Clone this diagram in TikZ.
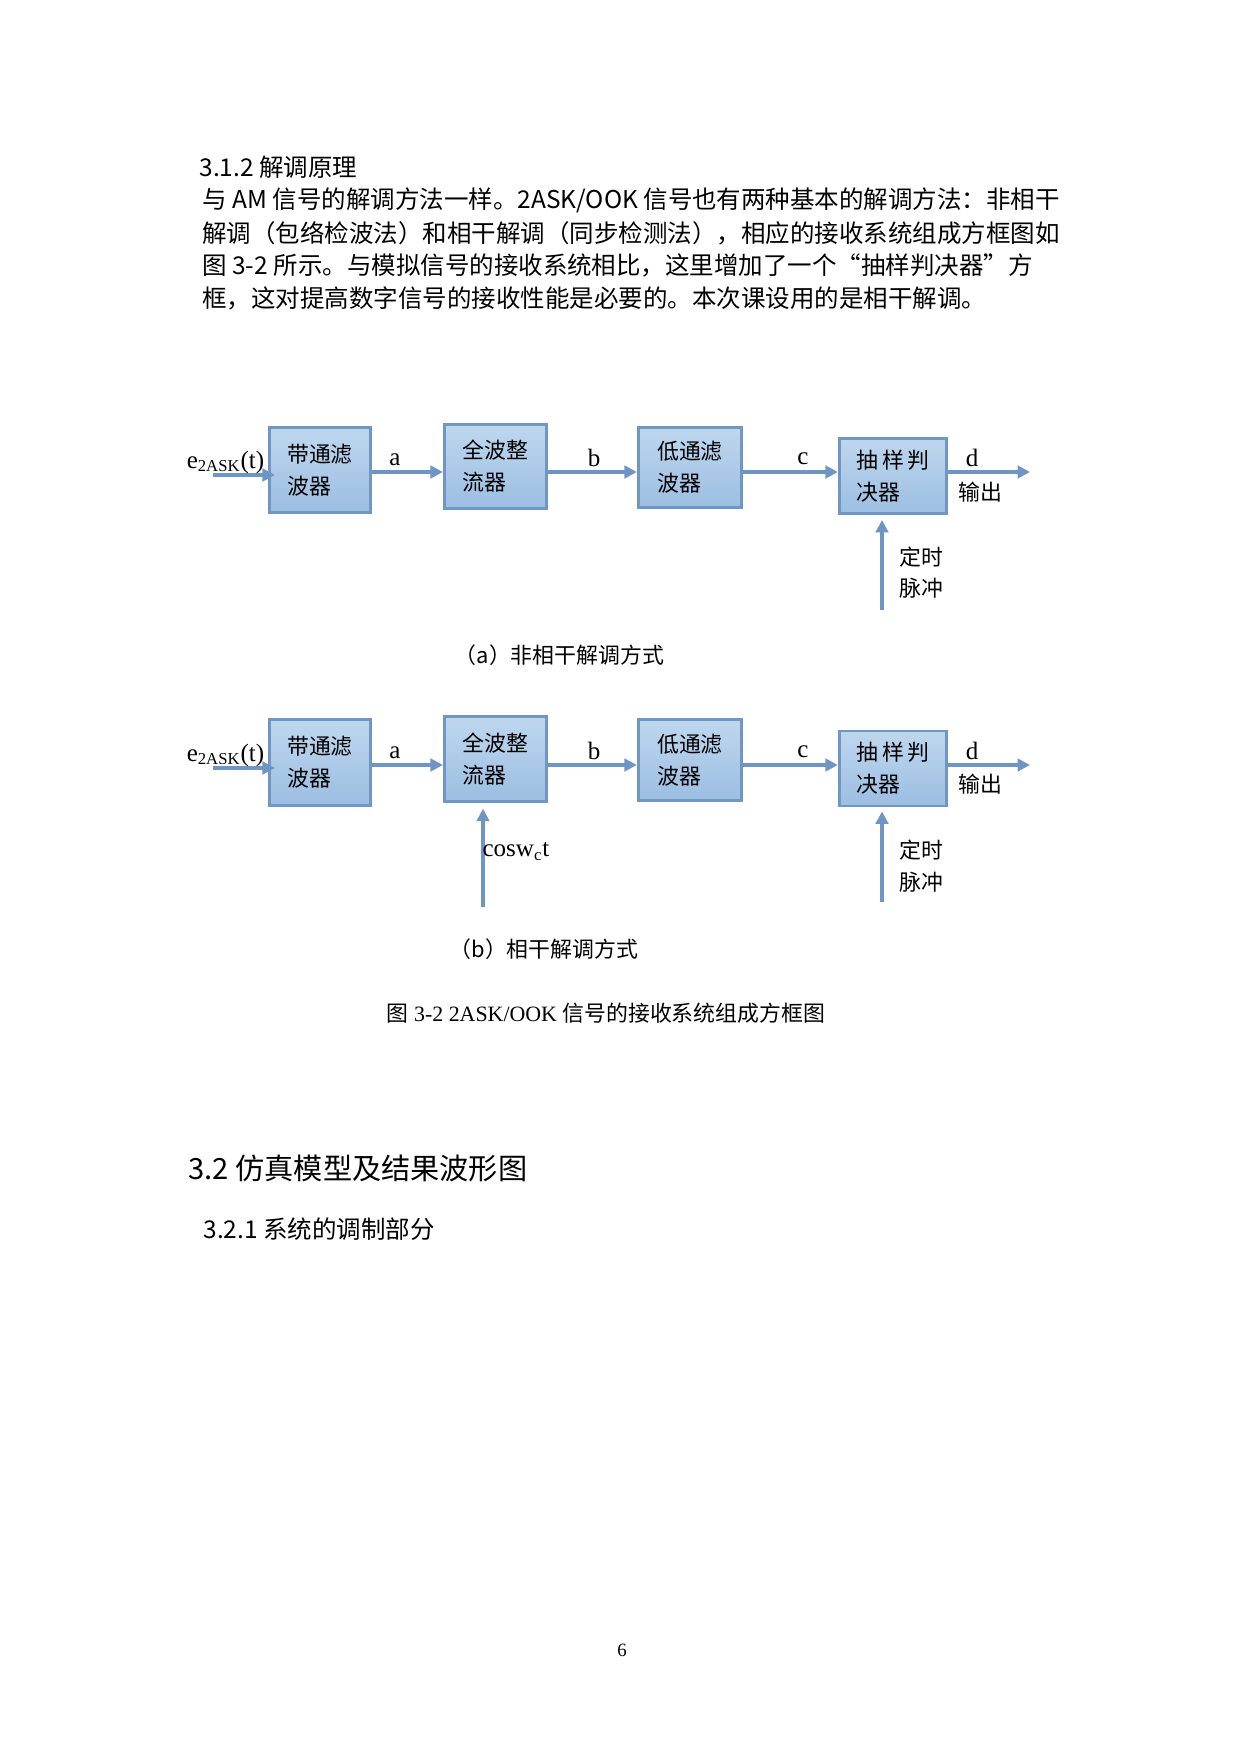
\documentclass[tikz,border=0pt]{standalone}
\usepackage{fontspec}
\setmainfont{Liberation Serif}
\newfontfamily\cjk{Noto Sans CJK SC}
\usetikzlibrary{arrows.meta}
\definecolor{boxtop}{RGB}{190,215,238}
\definecolor{boxbot}{RGB}{156,190,226}
\definecolor{boxline}{RGB}{112,150,196}
\definecolor{sigline}{RGB}{110,149,196}

\begin{document}
\begin{tikzpicture}[x=0.4797pt,y=-0.4797pt,
	blk/.style={draw=boxline,line width=1.4pt,top color=boxtop,bottom color=boxbot,inner sep=0pt,align=left,font=\cjk\fontsize{10.5}{15.4}\selectfont},
	sig/.style={draw=sigline,line width=1.5pt,-{Triangle[length=6pt,width=6pt]}},
	lbl/.style={font=\fontsize{12}{14}\selectfont},
	zh/.style={align=left,font=\cjk\fontsize{10.5}{15.2}\selectfont},
	body/.style={anchor=west,inner sep=0pt,font=\cjk\fontsize{11.75}{14}\selectfont}]
	\useasboundingbox (0,0) rectangle (1241,1754);
	
	\node[body] (h312) at (199,167) {3.1.2 解调原理};
	\node[body] (p1) at (202,200) {与 AM 信号的解调方法一样。2ASK/OOK 信号也有两种基本的解调方法：非相干};
	\node[body] (p2) at (202,233) {解调（包络检波法）和相干解调（同步检测法），相应的接收系统组成方框图如};
	\node[body] (p3) at (202,265.5) {图 3-2 所示。与模拟信号的接收系统相比，这里增加了一个“抽样判决器”方};
	\node[body] (p4) at (202,298) {框，这对提高数字信号的接收性能是必要的。本次课设用的是相干解调。};
	
	%-------------------------------------
	\node[blk,minimum width=48.6pt,minimum height=41pt] (bpa) at (320,470) {带通滤\\波器};
	\node[blk,minimum width=49pt,minimum height=40.5pt] (fwra) at (495.5,466.5) {全波整\\流器};
	\node[blk,minimum width=49.6pt,minimum height=38.5pt] (lpfa) at (690,467.5) {低通滤\\波器};
	\node[blk,minimum width=51.5pt,minimum height=36pt] (deca) at (893,476) {抽\,样\,判\\决器};
	
	\coordinate (fa) at (0,472);
	\coordinate (ina) at (213,475);
	\coordinate (outa) at (1030,472);
	\coordinate (clka) at (882,610);
	
	\draw[sig,shorten >=-3.4pt] (ina) -- (ina -| bpa.west);
	\draw[sig] (bpa.east |- fa) -- (fwra.west |- fa);
	\draw[sig] (fwra.east |- fa) -- (lpfa.west |- fa);
	\draw[sig] (lpfa.east |- fa) -- (deca.west |- fa);
	\draw[sig] (deca.east |- fa) -- (outa);
	\draw[sig,shorten >=2.4pt] (clka) -- (clka |- deca.south);
	
	\node[lbl] (ea) at (225.5,462) {e\textsubscript{2ASK}(t)};
	\node[lbl] (la) at (395,460) {a};
	\node[lbl] (lb) at (594,458) {b};
	\node[lbl] (lc) at (803,459) {c};
	\node[lbl] (ld) at (972,457.5) {d};
	\node[zh] (oa) at (980,491.7) {输出};
	\node[zh,anchor=west,inner sep=0pt] (ta) at (899,572.5) {定时\\脉冲};
	\node[zh] (capa) at (559.5,655) {（a）非相干解调方式};
	
	%-------------------------------------
	\node[blk,minimum width=48.6pt,minimum height=41pt] (bpb) at (320,762.5) {带通滤\\波器};
	\node[blk,minimum width=49pt,minimum height=40.5pt] (fwrb) at (495.5,759) {全波整\\流器};
	\node[blk,minimum width=49.6pt,minimum height=38.5pt] (lpfb) at (690,760) {低通滤\\波器};
	\node[blk,minimum width=51.5pt,minimum height=36pt] (decb) at (893,768.5) {抽\,样\,判\\决器};
	
	\coordinate (fb) at (0,765);
	\coordinate (inb) at (213,768);
	\coordinate (outb) at (1030,765);
	\coordinate (clkb) at (882,902);
	\coordinate (cosb) at (483,907);
	
	\draw[sig,shorten >=-3.4pt] (inb) -- (inb -| bpb.west);
	\draw[sig] (bpb.east |- fb) -- (fwrb.west |- fb);
	\draw[sig] (fwrb.east |- fb) -- (lpfb.west |- fb);
	\draw[sig] (lpfb.east |- fb) -- (decb.west |- fb);
	\draw[sig] (decb.east |- fb) -- (outb);
	\draw[sig,shorten >=1.9pt] (clkb) -- (clkb |- decb.south);
	\draw[sig,shorten >=2.9pt] (cosb) -- (cosb |- fwrb.south);
	
	\node[lbl] (eb) at (225.5,755) {e\textsubscript{2ASK}(t)};
	\node[lbl] (lab) at (395,753) {a};
	\node[lbl] (lbb) at (594,751) {b};
	\node[lbl] (lcb) at (803,752) {c};
	\node[lbl] (ldb) at (972,750.5) {d};
	\node[zh] (ob) at (980,784.5) {输出};
	\node[zh,anchor=west,inner sep=0pt] (tb) at (899,866) {定时\\脉冲};
	\node[lbl] (cw) at (516,851.7) {cosw\textsubscript{c}t};
	\node[zh] (capb) at (544,949) {（b）相干解调方式};
	
	\node[font=\fontsize{10.5}{12}\selectfont] (fig) at (606,1013) {{\cjk 图} 3-2 2ASK/OOK {\cjk 信号的接收系统组成方框图}};
	
	\node[body,font=\cjk\fontsize{14}{16}\selectfont] (h32) at (188,1168) {3.2 仿真模型及结果波形图};
	\node[body] (h321) at (203,1229) {3.2.1 系统的调制部分};
	\node[font=\fontsize{9}{10}\selectfont] (pg) at (622,1650) {6};
\end{tikzpicture}
\end{document}
